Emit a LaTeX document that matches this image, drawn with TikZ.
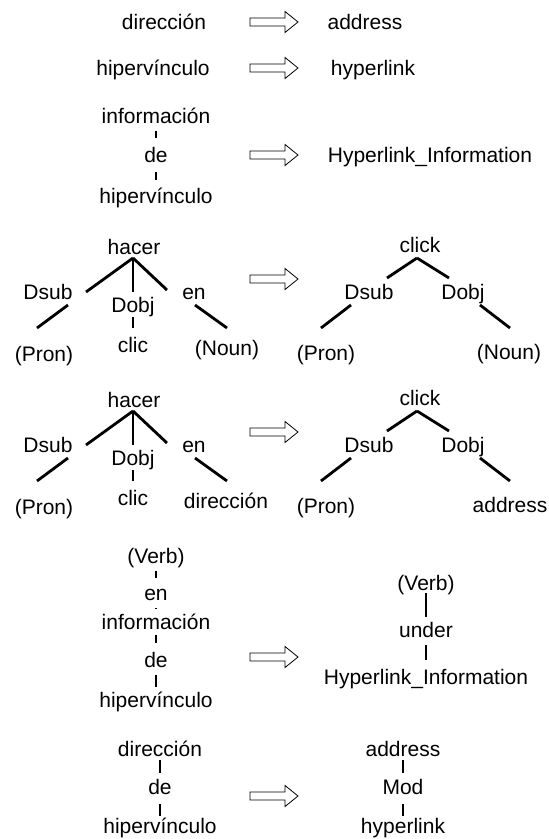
\documentclass[tikz,border=0pt]{standalone}
\usepackage{fontspec}
\setmainfont{Liberation Sans}
\usepackage{tikz}

% hollow rewrite arrow at height #1
\newcommand{\rewrite}[1]{%
  \draw[line width=0.8pt] (250,#1-4) -- (285,#1-4) -- (285,#1-10.5) -- (298,#1)
    -- (285,#1+10.5) -- (285,#1+4) -- (250,#1+4) -- cycle;}

\begin{document}
\begin{tikzpicture}[x=1pt, y=-1pt,
    every node/.style={inner sep=0pt, text height=15pt, text depth=0pt,
      font=\fontsize{21}{25}\selectfont},
    link/.style={line width=2.8pt}]
        \useasboundingbox (0,0) rectangle (549,839);
        % dirección -> address
        \draw (164, 22) node(dir1){dirección};
        \draw (365, 22) node(addr1){address};
        \rewrite{22}
        % hipervínculo -> hyperlink
        \draw (153, 68) node(hip1){hipervínculo};
        \draw (373, 68) node(hyp1){hyperlink};
        \rewrite{68}
        % información de hipervínculo
        \draw (156, 116) node(inf1){información};
        \draw (156, 155) node(de1){de};
        \draw (156, 196) node(hip2){hipervínculo};
        \draw[link] ([shift={(0,15)}]inf1.center) -- ([shift={(0,-17)}]de1.center);
        \draw[link] ([shift={(0,17)}]de1.center) -- ([shift={(0,-16)}]hip2.center);
        \draw (430, 155) node(hinf1){Hyperlink\_Information};
        \rewrite{155}
        % hacer clic en (Noun)
        \draw (134, 247) node(hac1){hacer};
        \draw (48, 292) node(dsub1){Dsub};
        \draw (133, 305) node(dobj1){Dobj};
        \draw (194, 292) node(en1){en};
        \draw (44, 354) node(pron1){(Pron)};
        \draw (133, 345) node(clic1){clic};
        \draw (227, 348) node(noun1){(Noun)};
        \draw[link] ([shift={(-1,11)}]hac1.center) -- ([shift={(38,0)}]dsub1.center);
        \draw[link] ([shift={(-1,11)}]hac1.center) -- ([shift={(0,-13)}]dobj1.center);
        \draw[link] ([shift={(-1,11)}]hac1.center) -- ([shift={(-27,-2)}]en1.center);
        \draw[link] ([shift={(20,13)}]dsub1.center) -- ([shift={(-7,-26)}]pron1.center);
        \draw[link] ([shift={(0,12)}]dobj1.center) -- ([shift={(0,-17)}]clic1.center);
        \draw[link] ([shift={(1,13)}]en1.center) -- ([shift={(0,-20)}]noun1.center);
        \rewrite{279}
        \draw (420, 245) node(clk1){click};
        \draw (369, 292) node(dsub2){Dsub};
        \draw (463, 292) node(dobj2){Dobj};
        \draw (326, 353) node(pron2){(Pron)};
        \draw (509, 352) node(noun2){(Noun)};
        \draw[link] ([shift={(-3,13)}]clk1.center) -- ([shift={(18,-14)}]dsub2.center);
        \draw[link] ([shift={(-3,13)}]clk1.center) -- ([shift={(-14,-14)}]dobj2.center);
        \draw[link] ([shift={(-18,13)}]dsub2.center) -- ([shift={(-5,-25)}]pron2.center);
        \draw[link] ([shift={(17,13)}]dobj2.center) -- ([shift={(1,-24)}]noun2.center);
        % hacer clic en dirección
        \draw (134, 400) node(hac2){hacer};
        \draw (48, 445) node(dsub3){Dsub};
        \draw (133, 458) node(dobj3){Dobj};
        \draw (194, 445) node(en2){en};
        \draw (44, 507) node(pron3){(Pron)};
        \draw (133, 498) node(clic2){clic};
        \draw (226, 501) node(dir2){dirección};
        \draw[link] ([shift={(-1,11)}]hac2.center) -- ([shift={(38,0)}]dsub3.center);
        \draw[link] ([shift={(-1,11)}]hac2.center) -- ([shift={(0,-13)}]dobj3.center);
        \draw[link] ([shift={(-1,11)}]hac2.center) -- ([shift={(-27,-2)}]en2.center);
        \draw[link] ([shift={(20,13)}]dsub3.center) -- ([shift={(-7,-26)}]pron3.center);
        \draw[link] ([shift={(0,12)}]dobj3.center) -- ([shift={(0,-17)}]clic2.center);
        \draw[link] ([shift={(1,13)}]en2.center) -- ([shift={(1,-20)}]dir2.center);
        \rewrite{432}
        \draw (420, 398) node(clk2){click};
        \draw (369, 445) node(dsub4){Dsub};
        \draw (463, 445) node(dobj4){Dobj};
        \draw (326, 506) node(pron4){(Pron)};
        \draw (510, 505) node(addr2){address};
        \draw[link] ([shift={(-3,13)}]clk2.center) -- ([shift={(18,-14)}]dsub4.center);
        \draw[link] ([shift={(-3,13)}]clk2.center) -- ([shift={(-14,-14)}]dobj4.center);
        \draw[link] ([shift={(-18,13)}]dsub4.center) -- ([shift={(-5,-25)}]pron4.center);
        \draw[link] ([shift={(17,13)}]dobj4.center) -- ([shift={(0,-24)}]addr2.center);
        % (Verb) en información de hipervínculo
        \draw (156, 556) node(verb1){(Verb)};
        \draw (156, 593) node(en3){en};
        \draw (156, 622) node(inf2){información};
        \draw (156, 660) node(de2){de};
        \draw (156, 700) node(hip3){hipervínculo};
        \draw[link] ([shift={(0,15)}]verb1.center) -- ([shift={(0,-15)}]en3.center);
        \draw[link] ([shift={(0,15)}]en3.center) -- ([shift={(0,-13)}]inf2.center);
        \draw[link] ([shift={(0,13)}]inf2.center) -- ([shift={(0,-17)}]de2.center);
        \draw[link] ([shift={(0,15)}]de2.center) -- ([shift={(0,-13)}]hip3.center);
        \rewrite{657}
        \draw (426, 583) node(verb2){(Verb)};
        \draw (426, 630) node(und1){under};
        \draw (426, 677) node(hinf2){Hyperlink\_Information};
        \draw[link] ([shift={(0,10)}]verb2.center) -- ([shift={(0,-13)}]und1.center);
        \draw[link] ([shift={(0,15)}]und1.center) -- ([shift={(0,-17)}]hinf2.center);
        % dirección de hipervínculo
        \draw (160, 749) node(dir3){dirección};
        \draw (160, 787) node(de3){de};
        \draw (160, 826) node(hip4){hipervínculo};
        \draw[link] ([shift={(0,11)}]dir3.center) -- ([shift={(0,-14)}]de3.center);
        \draw[link] ([shift={(0,17)}]de3.center) -- ([shift={(0,-10)}]hip4.center);
        \rewrite{796}
        \draw (403, 749) node(addr3){address};
        \draw (403, 787) node(mod1){Mod};
        \draw (403, 826) node(hyp2){hyperlink};
        \draw[link] ([shift={(0,11)}]addr3.center) -- ([shift={(0,-14)}]mod1.center);
        \draw[link] ([shift={(0,17)}]mod1.center) -- ([shift={(0,-10)}]hyp2.center);
\end{tikzpicture}
\end{document}
